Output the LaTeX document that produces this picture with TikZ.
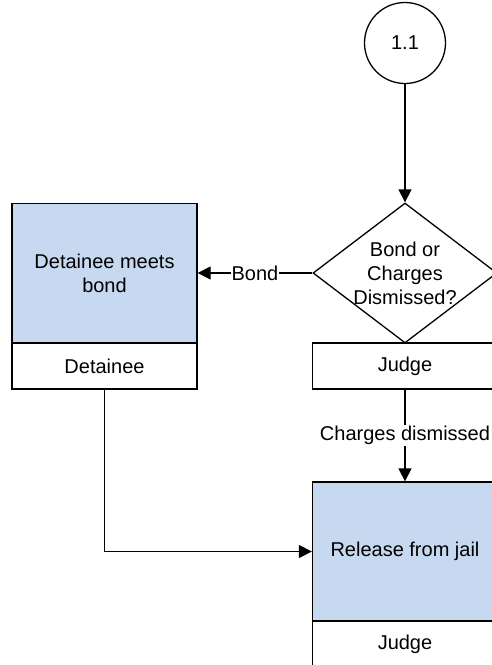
\documentclass[tikz,border=0pt]{standalone}
\usepackage{fontspec}
\setmainfont{Liberation Sans}
\usetikzlibrary{shapes.geometric,arrows.meta}
\definecolor{taskblue}{RGB}{198,217,240}
\begin{document}
\begin{tikzpicture}[x=1pt,y=-1pt,line width=1.3pt,>={Triangle[length=13pt,width=13pt]},font=\fontsize{20}{24}\selectfont]
        \tikzstyle{every node} = [align=center]
        \tikzstyle{task} = [rectangle, draw, fill=taskblue, minimum width=185pt, minimum height=139pt, inner sep=0pt]
        \tikzstyle{role} = [rectangle, draw, fill=white, minimum width=185pt, minimum height=46pt, inner sep=0pt]
        \tikzstyle{decision} = [diamond, draw, minimum width=184pt, minimum height=140pt, inner sep=0pt]
        \tikzstyle{onpath} = [fill=white, inner sep=1pt]
        \clip (0,0) rectangle (492,665);
        \node[circle, draw, minimum size=81pt] (c11) at (405,43) {1.1};
        \node[decision] (dec) at (405,273) {};
        \node (dectext) at (405,273) {Bond or\\Charges\\Dismissed?};
        \node[role] (judge1) at (405,366) {Judge};
        \node[task] (meet) at (104.5,273) {Detainee meets\\bond};
        \node[role] (detainee) at (104.5,366) {Detainee};
        \node[task] (release) at (405,551.5) {Release from jail};
        \node[role] (judge2) at (405,644) {Judge};
        \draw[->] (c11) -- (dec);
        \draw[->] (dec) -- node[onpath] {Bond} (meet);
        \draw[->] (judge1) -- node[onpath] {Charges dismissed} (release);
        \draw[->] (detainee) |- (release);
    \end{tikzpicture}
\end{document}
